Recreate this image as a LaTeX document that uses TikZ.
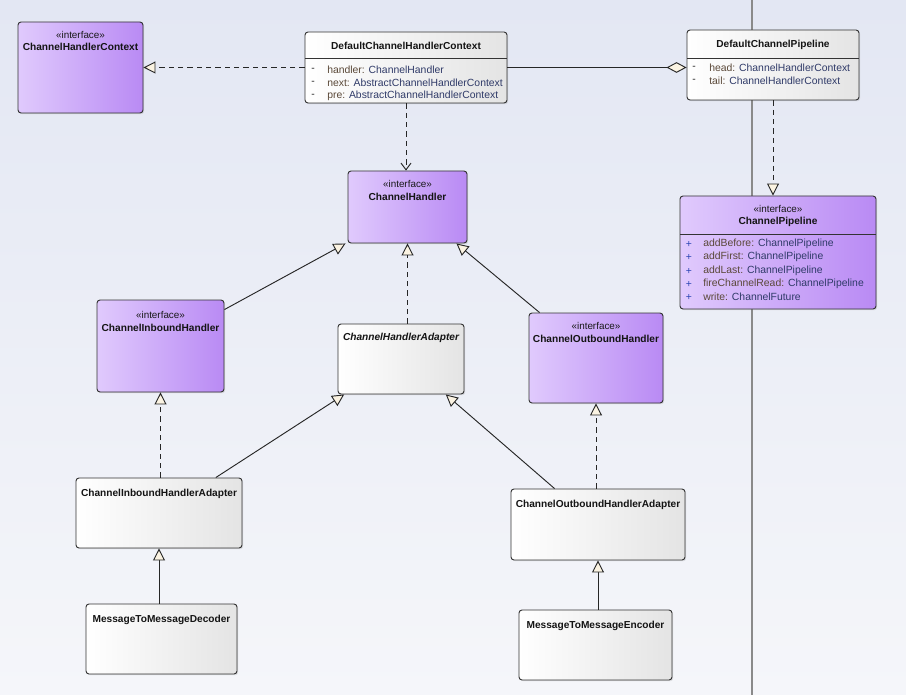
\documentclass[tikz,border=0pt]{standalone}
\usepackage{fontspec}
\setmainfont{Liberation Sans}
\usetikzlibrary{arrows.meta,fit,shadows}
\definecolor{bgtop}{HTML}{E3E7F3}
\definecolor{bgbot}{HTML}{F5F6FA}
\definecolor{ifl}{HTML}{E0CAFD}
\definecolor{ifr}{HTML}{B98AF4}
\definecolor{clsr}{HTML}{E4E4E4}
\definecolor{tipfill}{HTML}{FBF3E2}
\definecolor{nm}{HTML}{5A4838}
\definecolor{ty}{HTML}{2F3A68}
\definecolor{plus}{HTML}{2B45B5}
\definecolor{sep}{HTML}{8A8A8A}
\begin{document}
\begin{tikzpicture}[x=0.75pt,y=-0.75pt,
  font=\fontsize{7.8}{9}\selectfont,
  box/.style={draw=black!80, rounded corners=2.25pt, inner sep=0pt, line width=0.7pt,
    drop shadow={shadow xshift=0.9pt,shadow yshift=-0.9pt,opacity=0.22}},
  iface/.style={box, left color=ifl, right color=ifr},
  cls/.style={box, left color=white, right color=clsr},
  ster/.style={font=\fontsize{7.4}{8.5}\selectfont, inner sep=0pt, text=black!90},
  title/.style={font=\fontsize{7.6}{9}\selectfont\bfseries, inner sep=0pt, text=black!92},
  ititle/.style={title, font=\fontsize{7.6}{9}\selectfont\bfseries\itshape},
  attr/.style={anchor=west, inner sep=0pt},
  vismark/.style={anchor=center, inner sep=0pt, text=black!85},
  divider/.style={draw=black!80, line width=0.6pt},
  conn/.style={draw=black!85, line width=0.7pt},
  gen/.style={conn, -{Triangle[length=9pt,width=9pt,fill=tipfill]}},
  real/.style={gen, dash pattern=on 4pt off 3pt},
  dep/.style={conn, dash pattern=on 4pt off 3pt, -{Straight Barb[length=5pt,width=7.5pt]}},
  aggr/.style={conn, {Diamond[length=15pt,width=8pt,fill=tipfill]}-}
]
\useasboundingbox (0,0) rectangle (906,695);
\shade[top color=bgtop, bottom color=bgbot] (0,0) rectangle (906,695);
\draw[sep, line width=1.1pt] (752,0) -- (752,695);

% ChannelHandlerContext
\node[iface, fit={(18,22) (143,113)}] (chc) {};
\node[ster] (chc-s) at (80.5,35) {«interface»};
\node[title] (chc-n) at (80.5,47) {ChannelHandlerContext};

% DefaultChannelHandlerContext
\node[cls, fit={(305,32) (507,103)}] (dchc) {};
\node[title] (dchc-n) at (406,46) {DefaultChannelHandlerContext};
\draw[divider] (305,58) -- (507,58);
\node[vismark] (dchc-m1) at (313,70) {-};
\node[attr] (dchc-a1) at (327,70) {\textcolor{nm}{handler:} \textcolor{ty}{ChannelHandler}};
\node[vismark] (dchc-m2) at (313,83) {-};
\node[attr] (dchc-a2) at (327,83) {\textcolor{nm}{next:} \textcolor{ty}{AbstractChannelHandlerContext}};
\node[vismark] (dchc-m3) at (313,96) {-};
\node[attr] (dchc-a3) at (327,96) {\textcolor{nm}{pre:} \textcolor{ty}{AbstractChannelHandlerContext}};

% DefaultChannelPipeline
\node[cls, fit={(687,30) (859,100)}] (dcp) {};
\node[title] (dcp-n) at (773,45) {DefaultChannelPipeline};
\draw[divider] (687,58) -- (859,58);
\node[vismark] (dcp-m1) at (694,68) {-};
\node[attr] (dcp-a1) at (709,68) {\textcolor{nm}{head:} \textcolor{ty}{ChannelHandlerContext}};
\node[vismark] (dcp-m2) at (694,81) {-};
\node[attr] (dcp-a2) at (709,81) {\textcolor{nm}{tail:} \textcolor{ty}{ChannelHandlerContext}};

% ChannelPipeline
\node[iface, fit={(680,196) (876,309)}] (cp) {};
\node[ster] (cp-s) at (778,209) {«interface»};
\node[title] (cp-n) at (778,222) {ChannelPipeline};
\draw[divider] (680,234) -- (876,234);
\node[vismark, text=plus] (cp-m1) at (689,244) {+};
\node[attr] (cp-a1) at (703,244) {\textcolor{nm}{addBefore:} \textcolor{ty}{ChannelPipeline}};
\node[vismark, text=plus] (cp-m2) at (689,257) {+};
\node[attr] (cp-a2) at (703,257) {\textcolor{nm}{addFirst:} \textcolor{ty}{ChannelPipeline}};
\node[vismark, text=plus] (cp-m3) at (689,271) {+};
\node[attr] (cp-a3) at (703,271) {\textcolor{nm}{addLast:} \textcolor{ty}{ChannelPipeline}};
\node[vismark, text=plus] (cp-m4) at (689,284) {+};
\node[attr] (cp-a4) at (703,284) {\textcolor{nm}{fireChannelRead:} \textcolor{ty}{ChannelPipeline}};
\node[vismark, text=plus] (cp-m5) at (689,297) {+};
\node[attr] (cp-a5) at (703,297) {\textcolor{nm}{write:} \textcolor{ty}{ChannelFuture}};

% ChannelHandler
\node[iface, fit={(348,171) (467,243)}] (ch) {};
\node[ster] (ch-s) at (407.5,184) {«interface»};
\node[title] (ch-n) at (407.5,197) {ChannelHandler};

% ChannelInboundHandler
\node[iface, fit={(97,300) (224,392)}] (cih) {};
\node[ster] (cih-s) at (160.5,315) {«interface»};
\node[title] (cih-n) at (160.5,328) {ChannelInboundHandler};

% ChannelHandlerAdapter
\node[cls, fit={(338,324) (464,394)}] (cha) {};
\node[ititle] (cha-n) at (401,338) {ChannelHandlerAdapter};

% ChannelOutboundHandler
\node[iface, fit={(529,313) (663,403)}] (coh) {};
\node[ster] (coh-s) at (596,326) {«interface»};
\node[title] (coh-n) at (596,339) {ChannelOutboundHandler};

% ChannelInboundHandlerAdapter
\node[cls, fit={(76,478) (242,548)}] (ciha) {};
\node[title] (ciha-n) at (159,494) {ChannelInboundHandlerAdapter};

% ChannelOutboundHandlerAdapter
\node[cls, fit={(511,489) (685,560)}] (coha) {};
\node[title] (coha-n) at (598,505) {ChannelOutboundHandlerAdapter};

% MessageToMessageDecoder
\node[cls, fit={(86,604) (237,674)}] (mmd) {};
\node[title] (mmd-n) at (161.5,620) {MessageToMessageDecoder};

% MessageToMessageEncoder
\node[cls, fit={(519,610) (672,680)}] (mme) {};
\node[title] (mme-n) at (595.5,626) {MessageToMessageEncoder};

% connectors
\draw[real] (dchc.west) -- (dchc.west -| chc.east);
\draw[aggr] (dchc.east -| dcp.west) -- (dchc.east);
\draw[dep] (dchc.south) -- (dchc.south |- ch.north);
\draw[real] (dcp.south) -- (dcp.south |- cp.north);
\draw[gen] ([yshift=-7.5pt]cih.north east) -- ([xshift=-1.5pt]ch.south west);
\draw[real] (cha.north -| ch.south) -- (ch.south);
\draw[gen] ([xshift=8.25pt]coh.north west) -- ([xshift=-8.25pt]ch.south east);
\draw[real] (cih.south |- ciha.north) -- (cih.south);
\draw[gen] ([xshift=-20pt]ciha.north east) -- ([xshift=5pt]cha.south west);
\draw[gen] ([xshift=33pt]coha.north west) -- ([xshift=-14pt]cha.south east);
\draw[real] (coh.south |- coha.north) -- (coh.south);
\draw[gen] (ciha.south |- mmd.north) -- (ciha.south);
\draw[gen] (coha.south |- mme.north) -- (coha.south);
\end{tikzpicture}
\end{document}
